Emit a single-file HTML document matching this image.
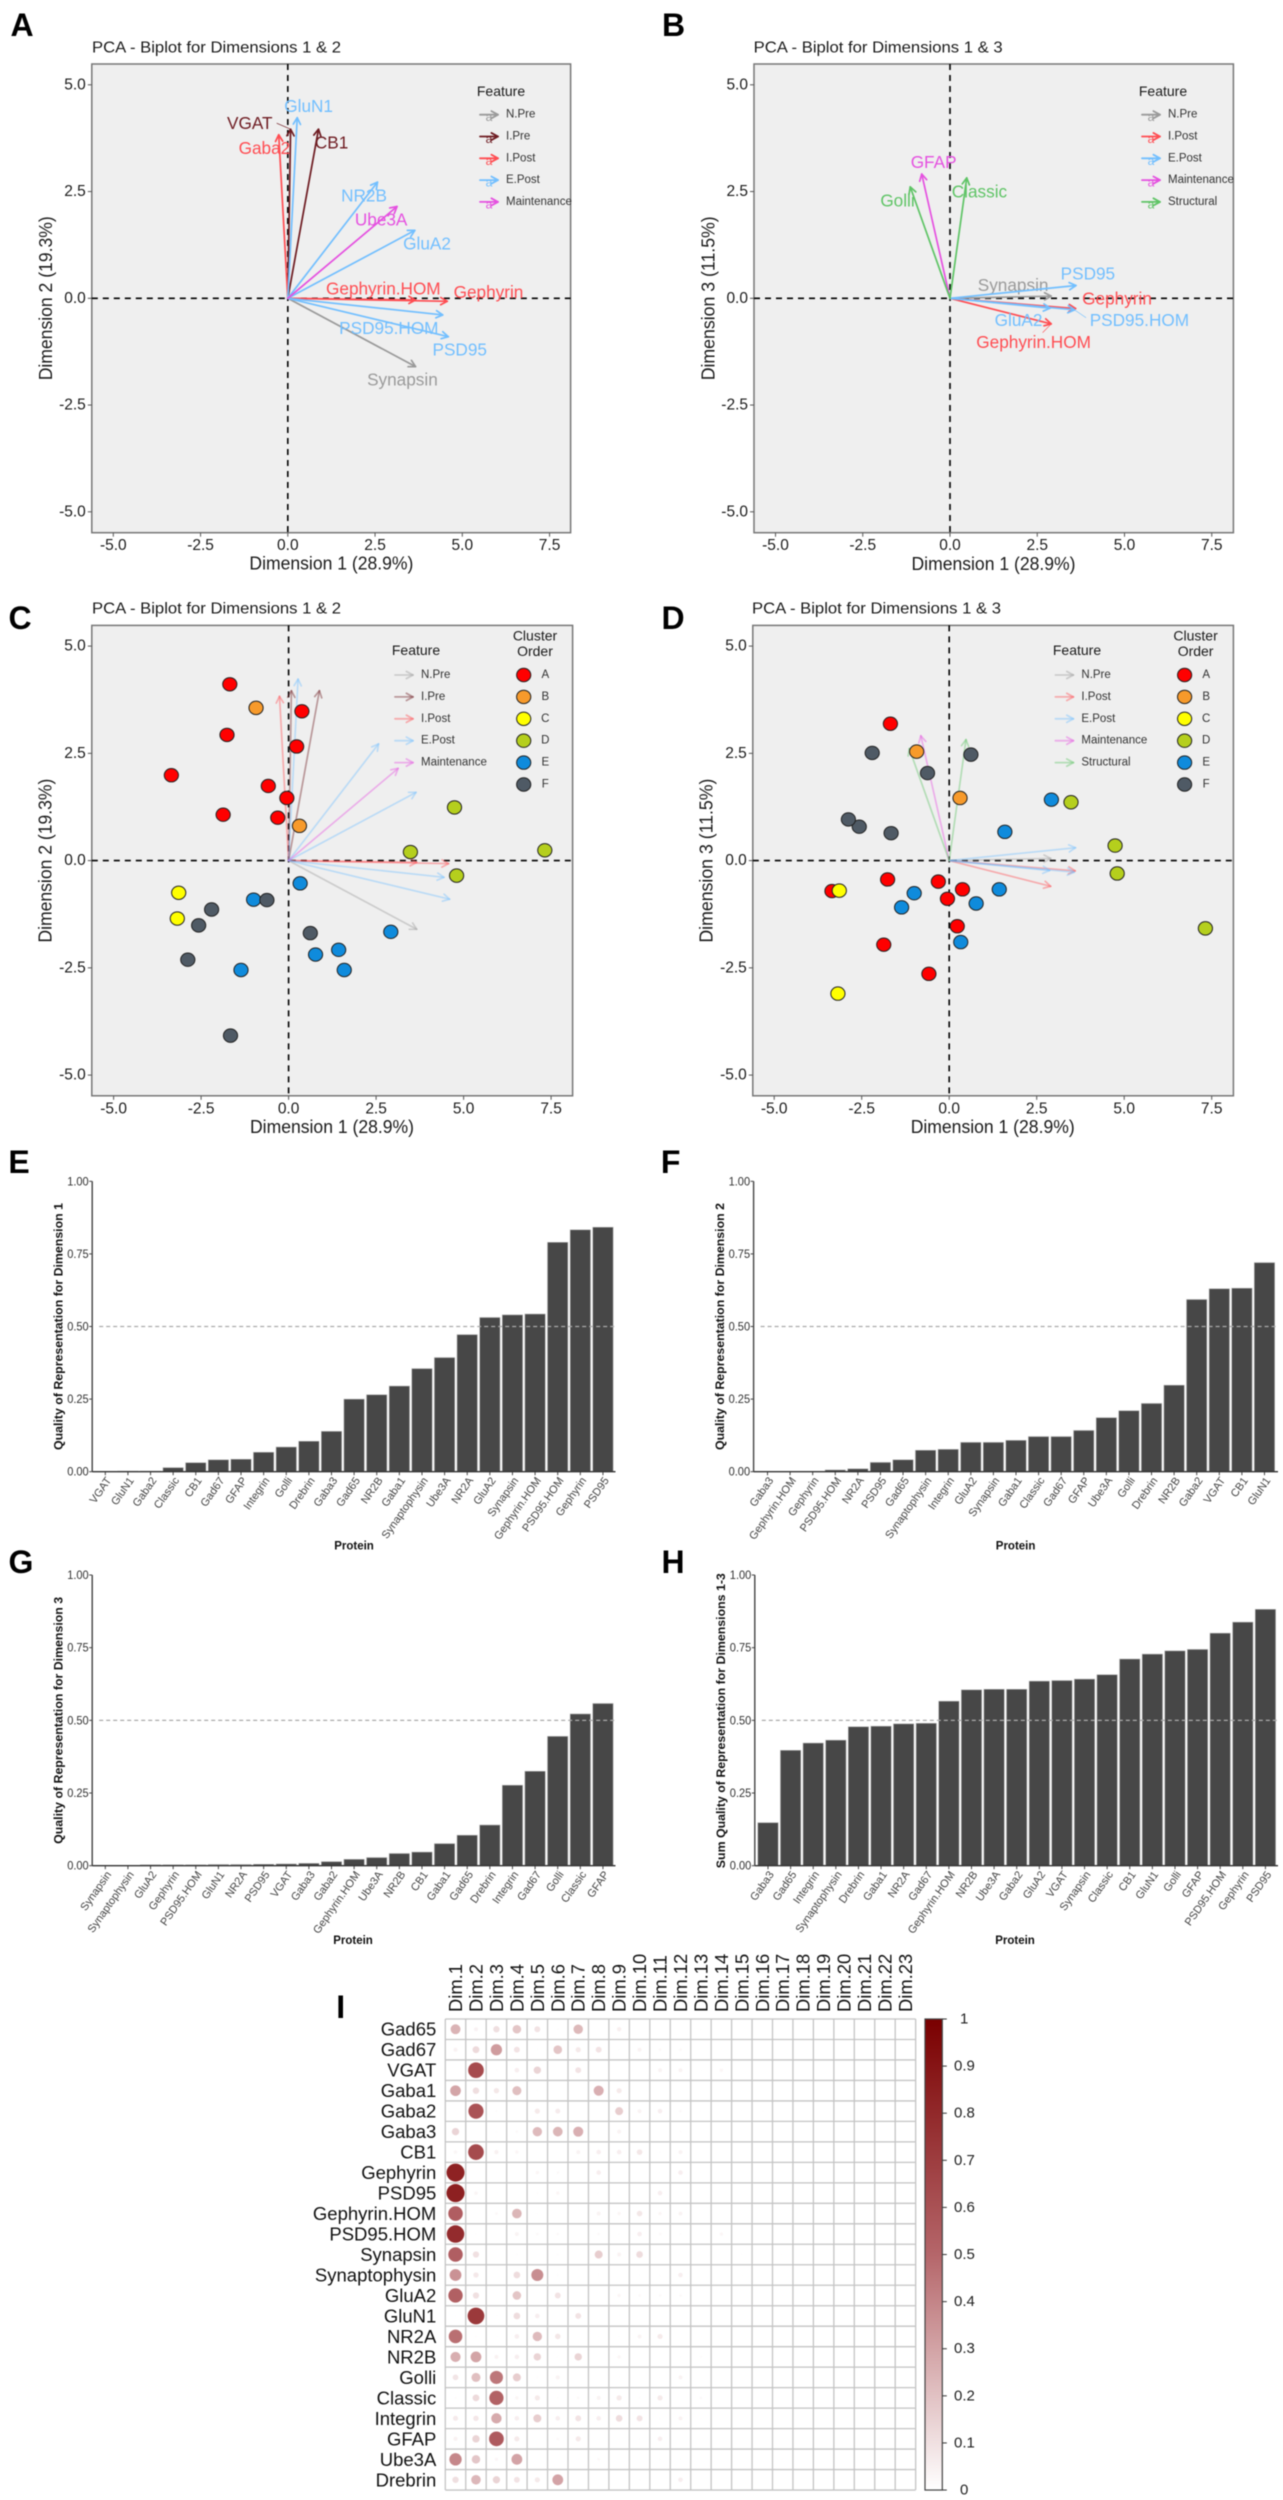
<!DOCTYPE html>
<html lang="en">
<head>
<meta charset="utf-8">
<title>PCA biplots, quality of representation and cos2 matrix</title>
<style>
  html, body { margin: 0; padding: 0; background: #fff; }
  body { width: 1283px; height: 2500px; overflow: hidden; }
  svg { display: block; font-family: "Liberation Sans", Arial, sans-serif; filter: blur(0.45px); }
</style>
</head>
<body>
<svg id="figure" width="1283" height="2500" viewBox="0 0 1283 2500" xmlns="http://www.w3.org/2000/svg">
  <defs>
    <linearGradient id="cos2-gradient" x1="0" y1="1" x2="0" y2="0">
      <stop offset="0" stop-color="#ffffff"/>
      <stop offset="0.5" stop-color="#b5666a"/>
      <stop offset="1" stop-color="#7a0000"/>
    </linearGradient>
  </defs>
  <g id="panel-a"></g>
  <g id="panel-b"></g>
  <g id="panel-c"></g>
  <g id="panel-d"></g>
  <g id="panel-e"></g>
  <g id="panel-f"></g>
  <g id="panel-g"></g>
  <g id="panel-h"></g>
  <g id="panel-i"></g>
</svg>
<script>
/* ---------- biplot data ---------- */
const biplotTickValues = [-5, -2.5, 0, 2.5, 5, 7.5];
const biplotTickLabels = ['-5.0', '-2.5', '0.0', '2.5', '5.0', '7.5'];
const biplotYTickValues = [-5, -2.5, 0, 2.5, 5];
const biplotYTickLabels = ['-5.0', '-2.5', '0.0', '2.5', '5.0'];

const arrowNames12 = ['Synapsin', 'VGAT', 'CB1', 'Gaba2', 'Gephyrin', 'Gephyrin.HOM', 'GluN1', 'NR2B', 'GluA2', 'PSD95', 'PSD95.HOM', 'Ube3A'];
const arrowGroups12 = ['N.Pre', 'I.Pre', 'I.Pre', 'I.Post', 'I.Post', 'I.Post', 'E.Post', 'E.Post', 'E.Post', 'E.Post', 'E.Post', 'Maintenance'];
const arrowDim1Of12 = [3.66, 0.08, 0.88, -0.26, 4.57, 3.66, 0.27, 2.57, 3.64, 4.6, 4.44, 3.13];
const arrowDim2Of12 = [-1.6, 3.96, 3.96, 3.83, -0.07, -0.04, 4.23, 2.72, 1.59, -0.9, -0.39, 2.15];

const arrowNames13 = ['Synapsin', 'Gephyrin', 'Gephyrin.HOM', 'PSD95', 'PSD95.HOM', 'GluA2', 'GFAP', 'Golli', 'Classic'];
const arrowGroups13 = ['N.Pre', 'I.Post', 'I.Post', 'E.Post', 'E.Post', 'E.Post', 'Maintenance', 'Structural', 'Structural'];
const arrowDim1Of13 = [2.9, 3.6, 2.9, 3.61, 3.57, 2.87, -0.81, -1.14, 0.48];
const arrowDim3Of13 = [0.05, -0.24, -0.6, 0.3, -0.27, -0.23, 2.91, 2.61, 2.82];

const legendGroups12 = ['N.Pre', 'I.Pre', 'I.Post', 'E.Post', 'Maintenance'];
const legendGroups13 = ['N.Pre', 'I.Post', 'E.Post', 'Maintenance', 'Structural'];
const clusterNames = ['A', 'B', 'C', 'D', 'E', 'F'];

const clusterDim1 = [
  [-1.68, 0.38, -1.76, 0.23, -3.35, -0.58, -0.05, -1.87, -0.31],
  [-0.93, 0.31],
  [-3.14, -3.18],
  [4.74, 3.48, 7.32, 4.8],
  [0.33, -1.0, 2.92, 1.43, 0.77, 1.59, -1.36],
  [-0.62, -2.2, -2.57, 0.62, -2.88, -1.66]
];
const clusterDim2 = [
  [4.11, 3.48, 2.93, 2.66, 1.99, 1.74, 1.46, 1.07, 1.0],
  [3.56, 0.81],
  [-0.75, -1.35],
  [1.24, 0.2, 0.24, -0.35],
  [-0.53, -0.91, -1.66, -2.08, -2.19, -2.55, -2.55],
  [-0.92, -1.14, -1.51, -1.69, -2.31, -4.08]
];
const clusterDim3 = [
  [3.19, -0.67, -0.44, -1.53, -0.71, -2.64, -0.89, -1.96, -0.49],
  [2.54, 1.46],
  [-0.7, -3.1],
  [0.35, 1.36, -1.58, -0.3],
  [-1.9, -0.76, 1.42, -0.67, -1.0, 0.67, -1.09],
  [2.04, 2.51, 0.79, 2.47, 0.96, 0.64]
];

/* ---------- bar chart data ---------- */
const barTickValues = [0, 0.25, 0.5, 0.75, 1];
const barTickLabels = ['0.00', '0.25', '0.50', '0.75', '1.00'];

const categoriesE = ['VGAT', 'GluN1', 'Gaba2', 'Classic', 'CB1', 'Gad67', 'GFAP', 'Integrin', 'Golli', 'Drebrin', 'Gaba3', 'Gad65', 'NR2B', 'Gaba1', 'Synaptophysin', 'Ube3A', 'NR2A', 'GluA2', 'Synapsin', 'Gephyrin.HOM', 'PSD95.HOM', 'Gephyrin', 'PSD95'];
const valuesE = [0, 0.002, 0.002, 0.014, 0.031, 0.041, 0.043, 0.067, 0.085, 0.105, 0.139, 0.25, 0.265, 0.295, 0.355, 0.393, 0.472, 0.531, 0.54, 0.543, 0.79, 0.833, 0.842];

const categoriesF = ['Gaba3', 'Gephyrin.HOM', 'Gephyrin', 'PSD95.HOM', 'NR2A', 'PSD95', 'Gad65', 'Synaptophysin', 'Integrin', 'GluA2', 'Synapsin', 'Gaba1', 'Classic', 'Gad67', 'GFAP', 'Ube3A', 'Golli', 'Drebrin', 'NR2B', 'Gaba2', 'VGAT', 'CB1', 'GluN1'];
const valuesF = [0, 0.001, 0.001, 0.006, 0.01, 0.032, 0.041, 0.074, 0.077, 0.101, 0.101, 0.108, 0.121, 0.121, 0.142, 0.186, 0.21, 0.235, 0.298, 0.593, 0.63, 0.632, 0.72];

const categoriesG = ['Synapsin', 'Synaptophysin', 'GluA2', 'Gephyrin', 'PSD95.HOM', 'GluN1', 'NR2A', 'PSD95', 'VGAT', 'Gaba3', 'Gaba2', 'Gephyrin.HOM', 'Ube3A', 'NR2B', 'CB1', 'Gaba1', 'Gad65', 'Drebrin', 'Integrin', 'Gad67', 'Golli', 'Classic', 'GFAP'];
const valuesG = [0.001, 0.001, 0.003, 0.003, 0.003, 0.004, 0.004, 0.005, 0.006, 0.008, 0.014, 0.022, 0.028, 0.042, 0.047, 0.076, 0.105, 0.14, 0.277, 0.325, 0.445, 0.522, 0.558];

const categoriesH = ['Gaba3', 'Gad65', 'Integrin', 'Synaptophysin', 'Drebrin', 'Gaba1', 'NR2A', 'Gad67', 'Gephyrin.HOM', 'NR2B', 'Ube3A', 'Gaba2', 'GluA2', 'VGAT', 'Synapsin', 'Classic', 'CB1', 'GluN1', 'Golli', 'GFAP', 'PSD95.HOM', 'Gephyrin', 'PSD95'];
const valuesH = [0.148, 0.397, 0.422, 0.432, 0.478, 0.48, 0.488, 0.49, 0.566, 0.605, 0.607, 0.607, 0.635, 0.637, 0.642, 0.657, 0.711, 0.728, 0.739, 0.744, 0.8, 0.838, 0.882];

/* ---------- matrix data ---------- */
const matrixRows = ['Gad65', 'Gad67', 'VGAT', 'Gaba1', 'Gaba2', 'Gaba3', 'CB1', 'Gephyrin', 'PSD95', 'Gephyrin.HOM', 'PSD95.HOM', 'Synapsin', 'Synaptophysin', 'GluA2', 'GluN1', 'NR2A', 'NR2B', 'Golli', 'Classic', 'Integrin', 'GFAP', 'Ube3A', 'Drebrin'];
const matrixCols = ['Dim.1', 'Dim.2', 'Dim.3', 'Dim.4', 'Dim.5', 'Dim.6', 'Dim.7', 'Dim.8', 'Dim.9', 'Dim.10', 'Dim.11', 'Dim.12', 'Dim.13', 'Dim.14', 'Dim.15', 'Dim.16', 'Dim.17', 'Dim.18', 'Dim.19', 'Dim.20', 'Dim.21', 'Dim.22', 'Dim.23'];
const matrixValues = [
  [0.25, 0.041, 0.105, 0.19, 0.09, 0.01, 0.23, 0, 0.05, 0, 0, 0, 0.005, 0.002, 0.002, 0, 0, 0, 0, 0, 0, 0, 0],
  [0.041, 0.121, 0.325, 0.09, 0.007, 0.19, 0.07, 0.09, 0.005, 0.04, 0.02, 0.02, 0.002, 0.002, 0, 0, 0, 0.001, 0, 0, 0, 0, 0],
  [0, 0.63, 0.006, 0.055, 0.14, 0, 0.09, 0, 0, 0, 0.04, 0.04, 0.004, 0.03, 0, 0, 0, 0.001, 0, 0, 0, 0, 0],
  [0.295, 0.108, 0.076, 0.21, 0.007, 0, 0.003, 0.26, 0.07, 0, 0, 0, 0, 0, 0, 0, 0, 0, 0, 0, 0, 0, 0],
  [0.002, 0.593, 0.014, 0, 0.07, 0.065, 0, 0, 0.165, 0.04, 0.055, 0.02, 0.003, 0, 0.003, 0.006, 0, 0, 0, 0, 0, 0, 0],
  [0.139, 0, 0.008, 0.02, 0.225, 0.24, 0.26, 0.007, 0.04, 0, 0, 0.01, 0.004, 0, 0, 0, 0, 0, 0, 0, 0, 0, 0],
  [0.031, 0.632, 0.047, 0.03, 0, 0, 0.04, 0.055, 0.055, 0.08, 0.007, 0.04, 0, 0, 0, 0, 0.002, 0, 0, 0, 0, 0, 0],
  [0.833, 0.001, 0.003, 0, 0.03, 0.02, 0, 0.055, 0, 0, 0.003, 0.055, 0.002, 0, 0, 0.002, 0.002, 0, 0, 0, 0, 0, 0],
  [0.842, 0.032, 0.005, 0, 0.01, 0.03, 0, 0.005, 0, 0.003, 0.055, 0, 0, 0.001, 0.002, 0.002, 0, 0, 0, 0, 0, 0, 0],
  [0.543, 0.001, 0.022, 0.24, 0.007, 0, 0, 0.04, 0.03, 0.08, 0.03, 0.04, 0, 0, 0.001, 0, 0, 0, 0.002, 0, 0, 0, 0],
  [0.79, 0.006, 0.003, 0.04, 0.02, 0.02, 0, 0.02, 0.007, 0.055, 0.02, 0.01, 0.002, 0.03, 0, 0, 0, 0, 0, 0, 0, 0, 0],
  [0.54, 0.101, 0.001, 0.01, 0.005, 0.01, 0, 0.165, 0.04, 0.115, 0, 0, 0, 0, 0.005, 0, 0.002, 0, 0, 0, 0, 0, 0],
  [0.355, 0.074, 0.001, 0.115, 0.37, 0.01, 0, 0.007, 0, 0.007, 0.007, 0.055, 0.002, 0.002, 0.005, 0, 0, 0.001, 0, 0, 0, 0, 0],
  [0.531, 0.101, 0.003, 0.19, 0, 0.09, 0, 0, 0.03, 0.02, 0.02, 0.02, 0.003, 0, 0, 0.002, 0.003, 0, 0, 0, 0, 0, 0],
  [0.002, 0.72, 0.004, 0.115, 0.055, 0, 0.09, 0, 0.003, 0, 0, 0, 0, 0, 0, 0.001, 0, 0.001, 0, 0, 0, 0, 0],
  [0.472, 0.01, 0.004, 0.055, 0.225, 0.08, 0, 0.003, 0.005, 0.04, 0.07, 0, 0.002, 0, 0.002, 0, 0, 0, 0, 0, 0, 0, 0],
  [0.265, 0.298, 0.042, 0.055, 0.14, 0.007, 0.14, 0, 0.03, 0, 0, 0.007, 0.012, 0, 0, 0, 0, 0.002, 0, 0, 0, 0, 0],
  [0.085, 0.21, 0.445, 0.165, 0.01, 0.04, 0.003, 0, 0.005, 0.003, 0.003, 0.04, 0.002, 0, 0, 0, 0, 0, 0.001, 0, 0, 0, 0],
  [0.014, 0.121, 0.522, 0.03, 0.07, 0.01, 0.02, 0.04, 0.07, 0.01, 0.07, 0, 0.018, 0, 0, 0, 0, 0, 0, 0, 0, 0, 0],
  [0.067, 0.077, 0.277, 0.055, 0.165, 0.055, 0.09, 0.055, 0.115, 0.09, 0.005, 0.04, 0.006, 0, 0, 0, 0, 0, 0, 0, 0, 0, 0],
  [0.043, 0.142, 0.558, 0.07, 0.003, 0.02, 0.07, 0, 0, 0.007, 0.055, 0, 0, 0, 0, 0, 0, 0, 0.002, 0, 0, 0, 0],
  [0.393, 0.186, 0.028, 0.3, 0, 0, 0.005, 0.02, 0, 0, 0.005, 0.005, 0.002, 0.001, 0, 0, 0.005, 0, 0, 0, 0, 0, 0],
  [0.105, 0.235, 0.14, 0.09, 0.07, 0.3, 0.003, 0, 0.005, 0.007, 0, 0.055, 0, 0.001, 0, 0.003, 0, 0, 0, 0, 0, 0, 0]
];
const colorbarTicks = [0, 0.1, 0.2, 0.3, 0.4, 0.5, 0.6, 0.7, 0.8, 0.9, 1];
const colorbarTickLabels = ['0', '0.1', '0.2', '0.3', '0.4', '0.5', '0.6', '0.7', '0.8', '0.9', '1'];

/* ---------- styling and layout (not data) ---------- */
const groupColor = { 'N.Pre': '#9a9a9a', 'I.Pre': '#6e1c22', 'I.Post': '#ff4d52', 'E.Post': '#72bfff', 'Maintenance': '#e551e0', 'Structural': '#5fc466' };
const clusterColor = { A: '#ff0000', B: '#f79a2b', C: '#ffff00', D: '#b5cf1d', E: '#0f8bdc', F: '#4f5a65' };
const nudge12 = { 'GluN1': [11.4, -11.7], 'VGAT': [-40.8, -6], 'Gaba2': [-14.3, 13.2], 'CB1': [13.1, 13.5], 'NR2B': [-13.5, 13.5], 'Ube3A': [-15.9, 13.2], 'GluA2': [12.2, 13.2], 'Gephyrin.HOM': [-32.2, -11.3], 'Gephyrin': [41.2, -9.4], 'PSD95.HOM': [-53.9, 12.8], 'PSD95': [11.4, 12.8], 'Synapsin': [-13.1, 12.8] };
const nudge13 = { 'GFAP': [11.9, -12], 'Golli': [-12.7, 13.5], 'Classic': [12.7, 13.5], 'PSD95': [11.9, -12], 'Synapsin': [-38.1, -11.3], 'Gephyrin': [41.4, -10.2], 'GluA2': [-31.6, 12], 'PSD95.HOM': [64.8, 10.2], 'Gephyrin.HOM': [-17.6, 18] };
const leader12 = { 'VGAT': [-13.9, -6] };
const leader13 = { 'PSD95.HOM': [11.5, 7.9], 'Gephyrin.HOM': [-8.6, 8.7] };

const SVGNS = 'http://www.w3.org/2000/svg';
function make(tag, attrs, parent) {
  const node = document.createElementNS(SVGNS, tag);
  for (const k in attrs) node.setAttribute(k, attrs[k]);
  parent.appendChild(node);
  return node;
}
function write(str, x, y, size, attrs, parent) {
  const base = { x: x, y: y, 'font-size': size, 'dominant-baseline': 'central', fill: '#1a1a1a' };
  const node = make('text', Object.assign(base, attrs || {}), parent);
  node.textContent = str;
  return node;
}
function slug(s) { return String(s).toLowerCase().replace(/[^a-z0-9]+/g, '-'); }

function panelLetter(parent, letter, x, y) {
  const el = write(letter, x, y, 32, { 'font-weight': 'bold', 'text-anchor': 'middle', fill: '#000' }, parent);
  
  
}

function drawArrow(parent, x0, y0, x1, y1, color, opacity, width, name) {
  const g = make('g', { stroke: color, 'stroke-opacity': opacity, 'stroke-width': width, fill: 'none', 'stroke-linecap': 'round', 'stroke-linejoin': 'round' }, parent);
  
  
  make('line', { x1: x0, y1: y0, x2: x1, y2: y1 }, g);
  const a = Math.atan2(y1 - y0, x1 - x0), L = 7.5, w = 0.5;
  const p1 = [x1 - L * Math.cos(a - w), y1 - L * Math.sin(a - w)];
  const p2 = [x1 - L * Math.cos(a + w), y1 - L * Math.sin(a + w)];
  make('polyline', { points: p1.join(',') + ' ' + x1 + ',' + y1 + ' ' + p2.join(',') }, g);
}

function drawBiplot(cfg) {
  const g = document.getElementById(cfg.id);
  const sx = v => cfg.x0 + v * cfg.ux;
  const sy = v => cfg.y0 - v * cfg.uy;

  panelLetter(g, cfg.letter, cfg.letterX, cfg.letterY);

  const title = write(cfg.title, cfg.titleX, cfg.titleY, 16, { textLength: 249, lengthAdjust: 'spacingAndGlyphs' }, g);
  
  

  const bg = make('rect', { x: cfg.left, y: cfg.top, width: cfg.right - cfg.left, height: cfg.bottom - cfg.top, fill: '#efefef', stroke: '#777', 'stroke-width': 1.5 }, g);
  
  

  biplotTickValues.forEach((t, i) => {
    const mark = make('line', { x1: sx(t), x2: sx(t), y1: cfg.bottom, y2: cfg.bottom + 4, stroke: '#555', 'stroke-width': 1 }, g);
    
    
    const lab = write(biplotTickLabels[i], sx(t), cfg.xTickY, 15.5, { 'text-anchor': 'middle' }, g);
    
    
  });
  biplotYTickValues.forEach((t, i) => {
    const mark = make('line', { x1: cfg.left - 4, x2: cfg.left, y1: sy(t), y2: sy(t), stroke: '#555', 'stroke-width': 1 }, g);
    
    
    const lab = write(biplotYTickLabels[i], cfg.left - 6, sy(t), 15.5, { 'text-anchor': 'end' }, g);
    
    
  });

  const xt = write('Dimension 1 (28.9%)', cfg.xTitleX, cfg.xTitleY, 18, { 'text-anchor': 'middle', textLength: 164, lengthAdjust: 'spacingAndGlyphs' }, g);
  
  
  const yt = write(cfg.yTitle, cfg.yTitleX, cfg.y0, 18, { 'text-anchor': 'middle', transform: 'rotate(-90 ' + cfg.yTitleX + ' ' + cfg.y0 + ')', textLength: 164, lengthAdjust: 'spacingAndGlyphs' }, g);
  
  

  const hz = make('line', { x1: cfg.left, x2: cfg.right, y1: sy(0), y2: sy(0), stroke: '#000', 'stroke-width': 1.6, 'stroke-dasharray': '6 5' }, g);
  
  
  const vt = make('line', { x1: sx(0), x2: sx(0), y1: cfg.top, y2: cfg.bottom, stroke: '#000', 'stroke-width': 1.6, 'stroke-dasharray': '6 5' }, g);
  
  

  cfg.names.forEach((name, i) => {
    const color = groupColor[cfg.groups[i]];
    const tx = sx(cfg.xs[i]), ty = sy(cfg.ys[i]);
    drawArrow(g, sx(0), sy(0), tx, ty, color, cfg.arrowOpacity, 1.7, 'arrow-' + slug(name));
    if (cfg.showLabels) {
      const n = cfg.nudge[name];
      const lead = cfg.leader[name];
      if (lead) {
        const line = make('line', { x1: tx, y1: ty, x2: tx + lead[0], y2: ty + lead[1], stroke: color, 'stroke-width': 0.6 }, g);
        
        
      }
      const lab = write(name, tx + n[0], ty + n[1], 17.2, { 'text-anchor': 'middle', fill: color }, g);
      
      
    }
  });

  if (cfg.clusters) {
    clusterNames.forEach((c, ci) => {
      cfg.clusterX[ci].forEach((v, i) => {
        const pt = make('ellipse', { cx: sx(v), cy: sy(cfg.clusterY[ci][i]), rx: 7.1, ry: 6.7, fill: clusterColor[c], stroke: '#222', 'stroke-width': 1 }, g);
        
        
      });
    });
  }

  /* legend */
  const ft = write('Feature', cfg.legTitleX, cfg.legTitleY, 14, { 'text-anchor': 'middle' }, g);
  
  
  cfg.legend.forEach((grp, i) => {
    const y = cfg.legY + i * cfg.legStep;
    const color = groupColor[grp];
    drawArrow(g, cfg.keyX, y, cfg.keyX + 18, y, color, cfg.arrowOpacity, 1.8, 'legend-key-' + slug(grp));
    if (cfg.showLabels) {
      const a = write('a', cfg.keyX + 9, y + 2.5, 12, { 'text-anchor': 'middle', fill: color }, g);
      
      
    }
    const lab = write(grp, cfg.keyX + 26, y, 11.5, { fill: '#333' }, g);
    
    
  });
  if (cfg.clusters) {
    const c1 = write('Cluster', cfg.clusterTitleX, cfg.clusterTitleY, 14, { 'text-anchor': 'middle' }, g);
    
    
    const c2 = write('Order', cfg.clusterTitleX, cfg.clusterTitleY + 15.3, 14, { 'text-anchor': 'middle' }, g);
    
    
    clusterNames.forEach((c, i) => {
      const y = cfg.legY + i * cfg.legStep;
      const k = make('ellipse', { cx: cfg.clusterKeyX, cy: y, rx: 7.1, ry: 6.7, fill: clusterColor[c], stroke: '#222', 'stroke-width': 1 }, g);
      
      
      const t = write(c, cfg.clusterKeyX + 21.6, y, 11.5, { 'text-anchor': 'middle', fill: '#333' }, g);
      
      
    });
  }
}

function drawBars(cfg) {
  const g = document.getElementById(cfg.id);
  const sy = v => cfg.axisBottom - v * (cfg.axisBottom - cfg.axisTop);
  const sx = i => cfg.firstX + i * cfg.pitch;

  panelLetter(g, cfg.letter, cfg.letterX, cfg.letterY);

  cfg.categories.forEach((cat, i) => {
    const v = cfg.values[i];
    const bar = make('rect', { x: sx(i) - 10.2, y: sy(v), width: 20.4, height: cfg.axisBottom - sy(v), fill: '#474747', stroke: '#b5b5b5', 'stroke-width': 0.6 }, g);
    
    
    const tick = make('line', { x1: sx(i), x2: sx(i), y1: cfg.axisBottom, y2: cfg.axisBottom + 3.5, stroke: '#444', 'stroke-width': 1 }, g);
    
    
    const ax = sx(i) + 4, ay = cfg.axisBottom + 7;
    const lab = write(cat, ax, ay, 11, { 'text-anchor': 'end', fill: '#444', transform: 'rotate(-55 ' + ax + ' ' + ay + ')' }, g);
    
    
  });

  const ref = make('line', { x1: cfg.axisX + 7, x2: cfg.right, y1: sy(0.5), y2: sy(0.5), stroke: '#aaa', 'stroke-width': 1.2, 'stroke-dasharray': '4 3' }, g);
  
  

  const ya = make('line', { x1: cfg.axisX, x2: cfg.axisX, y1: cfg.axisTop, y2: cfg.axisBottom, stroke: '#444', 'stroke-width': 1.4 }, g);
  
  
  const xa = make('line', { x1: cfg.axisX, x2: cfg.right, y1: cfg.axisBottom, y2: cfg.axisBottom, stroke: '#333', 'stroke-width': 1.4 }, g);
  
  

  barTickValues.forEach((t, i) => {
    const mark = make('line', { x1: cfg.axisX - 3, x2: cfg.axisX, y1: sy(t), y2: sy(t), stroke: '#444', 'stroke-width': 1 }, g);
    
    
    const lab = write(barTickLabels[i], cfg.axisX - 3.5, sy(t), 12, { 'text-anchor': 'end', fill: '#333', textLength: 21.5, lengthAdjust: 'spacingAndGlyphs' }, g);
    
    
  });

  const cy = sy(0.5);
  const yt = write(cfg.yTitle, cfg.yTitleX, cfg.yTitleY || cy, 12, { 'text-anchor': 'middle', 'font-weight': 'bold', fill: '#111', textLength: cfg.yTitleLen, lengthAdjust: 'spacingAndGlyphs', transform: 'rotate(-90 ' + cfg.yTitleX + ' ' + (cfg.yTitleY || cy) + ')' }, g);
  
  
  const xt = write('Protein', cfg.xTitleX, cfg.xTitleY, 11.5, { 'text-anchor': 'middle', 'font-weight': 'bold', fill: '#111' }, g);
  
  
}

function mixColor(v) {
  const stops = [[255, 255, 255], [181, 102, 106], [122, 0, 0]];
  const t = Math.min(1, Math.max(0, v)) * 2;
  const i = t >= 1 ? 1 : 0, f = t - i;
  const c = stops[i].map((s, k) => Math.round(s + (stops[i + 1][k] - s) * f));
  return 'rgb(' + c.join(',') + ')';
}

function drawMatrix() {
  const g = document.getElementById('panel-i');
  const left = 445.3, top = 2019, cw = 20.45, ch = 20.48;
  const nC = matrixCols.length, nR = matrixRows.length;
  const right = left + nC * cw, bottom = top + nR * ch;
  panelLetter(g, 'I', 340.7, 2007);

  for (let i = 0; i <= nC; i++) {
    const gl = make('line', { x1: left + i * cw, x2: left + i * cw, y1: top, y2: bottom, stroke: '#c4c4c4', 'stroke-width': 1.3 }, g);
    
    
  }
  for (let j = 0; j <= nR; j++) {
    const gl = make('line', { x1: left, x2: right, y1: top + j * ch, y2: top + j * ch, stroke: '#c4c4c4', 'stroke-width': 1.3 }, g);
    
    
  }
  matrixCols.forEach((c, i) => {
    const x = left + (i + 0.5) * cw, y = top - 7;
    const lab = write(c, x, y, 18.4, { fill: '#111', transform: 'rotate(-90 ' + x + ' ' + y + ')' }, g);
    
    
  });
  matrixRows.forEach((r, j) => {
    const lab = write(r, left - 9, top + (j + 0.5) * ch, 18.5, { 'text-anchor': 'end', fill: '#111' }, g);
    
    
    matrixValues[j].forEach((v, i) => {
      if (v <= 0) return;
      const dot = make('circle', { cx: left + (i + 0.5) * cw, cy: top + (j + 0.5) * ch, r: 9.86 * Math.sqrt(v), fill: mixColor(v) }, g);
      
      
    });
  });

  const barLeft = 925, barW = 17.3;
  const bar = make('rect', { x: barLeft, y: top, width: barW, height: bottom - top, fill: 'url(#cos2-gradient)', stroke: '#444', 'stroke-width': 1.2 }, g);
  
  
  colorbarTicks.forEach((t, i) => {
    const y = bottom - t * (bottom - top);
    const mark = make('line', { x1: barLeft + barW, x2: barLeft + barW + 4.5, y1: y, y2: y, stroke: '#333', 'stroke-width': 1 }, g);
    
    
    const lab = write(colorbarTickLabels[i], t === 0 || t === 1 ? 960 : 954, y, 15, { fill: '#222' }, g);
    
    
  });
}

/* ---------- render ---------- */
const titleA = 'PCA - Biplot for Dimensions 1 & 2';
const titleB = 'PCA - Biplot for Dimensions 1 & 3';

drawBiplot({ id: 'panel-a', letter: 'A', letterX: 22, letterY: 25, title: titleA, titleX: 92, titleY: 48,
  left: 91.8, right: 570.6, top: 64, bottom: 532.7, x0: 287.8, y0: 298.3, ux: 34.9, uy: 42.7, xTickY: 545.5,
  xTitleX: 331.4, xTitleY: 563.6, yTitle: 'Dimension 2 (19.3%)', yTitleX: 46,
  names: arrowNames12, groups: arrowGroups12, xs: arrowDim1Of12, ys: arrowDim2Of12, arrowOpacity: 1, showLabels: true, nudge: nudge12, leader: leader12,
  legend: legendGroups12, legTitleX: 501, legTitleY: 91, keyX: 480, legY: 114.7, legStep: 21.8 });

drawBiplot({ id: 'panel-b', letter: 'B', letterX: 673.6, letterY: 25, title: titleB, titleX: 753.6, titleY: 48,
  left: 754, right: 1233.4, top: 64, bottom: 532.7, x0: 950, y0: 298.3, ux: 34.9, uy: 42.7, xTickY: 545.5,
  xTitleX: 993.5, xTitleY: 564, yTitle: 'Dimension 3 (11.5%)', yTitleX: 708.5,
  names: arrowNames13, groups: arrowGroups13, xs: arrowDim1Of13, ys: arrowDim3Of13, arrowOpacity: 1, showLabels: true, nudge: nudge13, leader: leader13,
  legend: legendGroups13, legTitleX: 1163, legTitleY: 91, keyX: 1142, legY: 114.7, legStep: 21.8 });

drawBiplot({ id: 'panel-c', letter: 'C', letterX: 20, letterY: 618, title: titleA, titleX: 92, titleY: 609,
  left: 91.8, right: 572.6, top: 625.4, bottom: 1095.8, x0: 288.6, y0: 860.6, ux: 35, uy: 42.9, xTickY: 1109,
  xTitleX: 332, xTitleY: 1127, yTitle: 'Dimension 2 (19.3%)', yTitleX: 45.7,
  names: arrowNames12, groups: arrowGroups12, xs: arrowDim1Of12, ys: arrowDim2Of12, arrowOpacity: 0.42, showLabels: false,
  clusters: true, clusterX: clusterDim1, clusterY: clusterDim2,
  legend: legendGroups12, legTitleX: 416, legTitleY: 650, keyX: 395, legY: 675, legStep: 21.9,
  clusterTitleX: 535, clusterTitleY: 635.6, clusterKeyX: 523.7 });

drawBiplot({ id: 'panel-d', letter: 'D', letterX: 673, letterY: 618, title: titleB, titleX: 752, titleY: 609,
  left: 752.8, right: 1233.4, top: 625.4, bottom: 1095.8, x0: 949.2, y0: 860.6, ux: 35, uy: 42.9, xTickY: 1109,
  xTitleX: 992.7, xTitleY: 1127, yTitle: 'Dimension 3 (11.5%)', yTitleX: 706.4,
  names: arrowNames13, groups: arrowGroups13, xs: arrowDim1Of13, ys: arrowDim3Of13, arrowOpacity: 0.42, showLabels: false,
  clusters: true, clusterX: clusterDim1, clusterY: clusterDim3,
  legend: legendGroups13, legTitleX: 1077, legTitleY: 650, keyX: 1055.4, legY: 675, legStep: 21.9,
  clusterTitleX: 1195.6, clusterTitleY: 635.6, clusterKeyX: 1184.6 });

drawBars({ id: 'panel-e', letter: 'E', letterX: 19, letterY: 1162, categories: categoriesE, values: valuesE,
  axisX: 92.2, right: 615.5, axisTop: 1181.3, axisBottom: 1471.7, firstX: 105.3, pitch: 22.62,
  yTitle: 'Quality of Representation for Dimension 1', yTitleX: 58.4, yTitleLen: 247, xTitleX: 354, xTitleY: 1546.7 });

drawBars({ id: 'panel-f', letter: 'F', letterX: 670.7, letterY: 1162, categories: categoriesF, values: valuesF,
  axisX: 753.6, right: 1278, axisTop: 1181.3, axisBottom: 1471.7, firstX: 767.5, pitch: 22.59,
  yTitle: 'Quality of Representation for Dimension 2', yTitleX: 720, yTitleLen: 247, xTitleX: 1015.6, xTitleY: 1546.7 });

drawBars({ id: 'panel-g', letter: 'G', letterX: 21, letterY: 1562, categories: categoriesG, values: valuesG,
  axisX: 92.2, right: 615.5, axisTop: 1575, axisBottom: 1865.7, firstX: 105.3, pitch: 22.62,
  yTitle: 'Quality of Representation for Dimension 3', yTitleX: 58.4, yTitleLen: 247, xTitleX: 353, xTitleY: 1941 });

drawBars({ id: 'panel-h', letter: 'H', letterX: 673, letterY: 1562, categories: categoriesH, values: valuesH,
  axisX: 754.8, right: 1278, axisTop: 1575, axisBottom: 1865.7, firstX: 768, pitch: 22.61,
  yTitle: 'Sum Quality of Representation for Dimensions 1-3', yTitleX: 720.8, yTitleY: 1720.7, yTitleLen: 295, xTitleX: 1015, xTitleY: 1941 });

drawMatrix();
</script>
</body>
</html>
